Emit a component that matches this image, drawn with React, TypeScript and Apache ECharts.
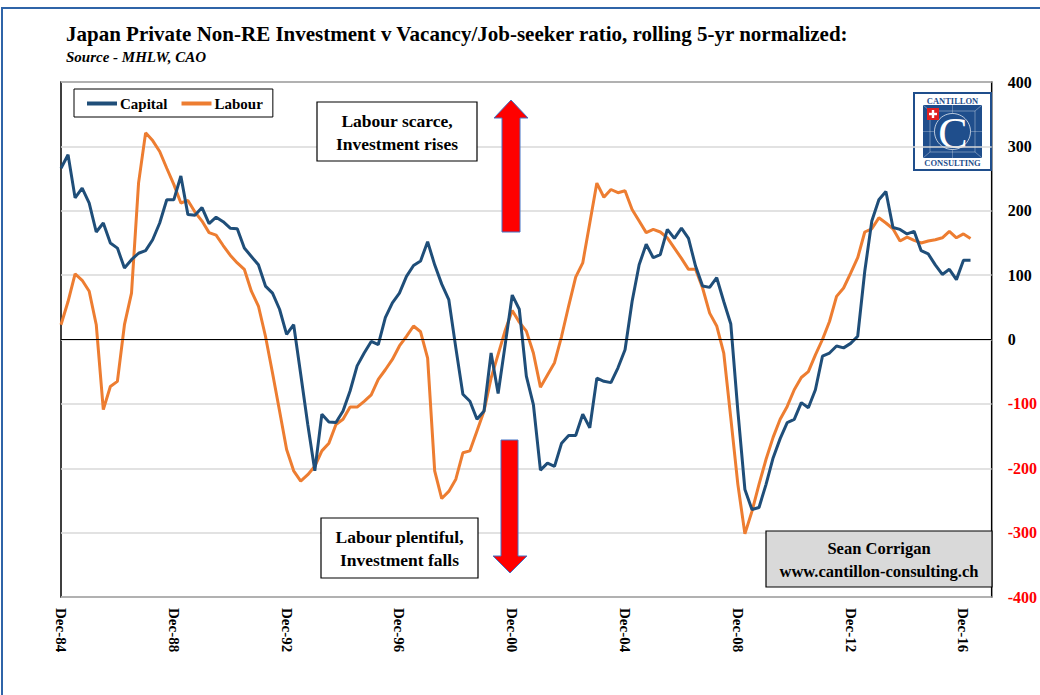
import React, { useEffect, useRef } from "react";
import * as echarts from "echarts";

const MONTHS = ["Mar", "Jun", "Sep", "Dec"];
// quarterly categories Dec-84 .. Dec-17
const categories: string[] = ["Dec-84"];
for (let y = 85; y <= 117; y++) {
  for (const m of MONTHS) categories.push(`${m}-${String(y % 100).padStart(2, "0")}`);
}

const capital = [
  266, 287, 220, 235, 212, 167, 181, 150, 142, 111, 124, 134, 138, 155, 181, 217, 217, 254, 194, 193,
  205, 180, 190, 183, 173, 172, 142, 129, 116, 83, 72, 47, 8, 23, -54, -132, -204, -116, -128, -129,
  -111, -80, -41, -21, -3, -8, 34, 57, 72, 98, 115, 122, 152, 116, 86, 62, -13, -85, -96, -124,
  -111, -21, -84, -8, 69, 47, -57, -101, -203, -192, -197, -161, -149, -149, -116, -137, -60, -65, -67, -44,
  -16, 59, 116, 148, 127, 132, 171, 157, 173, 157, 114, 83, 81, 96, 59, 24, -111, -233, -264, -261,
  -225, -184, -154, -129, -124, -98, -106, -78, -26, -21, -10, -13, -6, 5, 106, 184, 217, 230, 174, 171,
  164, 168, 138, 133, 116, 101, 109, 93, 123, 123,
];

const labour = [
  23, 59, 102, 92, 75, 23, -109, -73, -65, 23, 72, 243, 321, 309, 292, 266, 241, 212, 216, 198,
  184, 166, 162, 146, 131, 119, 109, 75, 52, 5, -52, -111, -171, -204, -220, -210, -197, -173, -161, -132,
  -124, -105, -105, -96, -86, -62, -47, -31, -10, 5, 21, 12, -29, -204, -247, -236, -217, -176, -173, -142,
  -111, -60, -23, 14, 45, 27, 13, -21, -74, -55, -36, 5, 52, 97, 119, 181, 243, 221, 233, 228,
  231, 202, 184, 166, 171, 167, 158, 142, 126, 109, 109, 80, 41, 21, -21, -122, -225, -302, -267, -225,
  -186, -152, -124, -104, -78, -59, -50, -24, 0, 28, 67, 80, 103, 127, 167, 172, 189, 181, 172, 153,
  159, 154, 150, 153, 155, 158, 168, 158, 164, 157,
];

const FONT = "'Liberation Serif', 'Times New Roman', serif";
const BLUE = "#1f4e79";
const ORANGE = "#ed7d31";
const LOGO = "#1f4e8c";

export default function App() {
  const ref = useRef<HTMLDivElement>(null);
  useEffect(() => {
    if (!ref.current) return;
    const chart = echarts.init(ref.current, undefined, { renderer: "svg" });
    const boxText = (cx: number, cy: number, text: string, size: number) => ({
      type: "text",
      x: cx,
      y: cy,
      style: {
        text,
        fontFamily: FONT,
        fontWeight: "bold",
        fontSize: size,
        lineHeight: 23,
        fill: "#000",
        align: "center",
        verticalAlign: "middle",
      },
      z: 101,
    });
    chart.setOption({
      animation: false,
      backgroundColor: "#fff",
      title: {
        text: "Japan Private Non-RE Investment v Vacancy/Job-seeker ratio, rolling 5-yr normalized:",
        subtext: "Source - MHLW, CAO",
        left: 66,
        top: 23,
        padding: 0,
        itemGap: 5,
        textStyle: { fontFamily: FONT, fontWeight: "bold", fontSize: 21, color: "#000" },
        subtextStyle: { fontFamily: FONT, fontStyle: "italic", fontWeight: "bold", fontSize: 15, color: "#000" },
      },
      legend: {
        left: 74,
        top: 89,
        padding: [7, 10, 6, 13],
        borderColor: "#000",
        borderWidth: 1,
        itemWidth: 30,
        itemHeight: 4,
        itemGap: 14,
        icon: "rect",
        textStyle: { fontFamily: FONT, fontWeight: "bold", fontSize: 15, color: "#000", padding: [0, 0, 0, -2] },
        data: ["Capital", "Labour"],
      },
      grid: { left: 61, right: 41, top: 82, bottom: 98, show: true, borderColor: "#000", borderWidth: 1.5, backgroundColor: "transparent" },
      xAxis: {
        type: "category",
        data: categories,
        boundaryGap: false,
        axisLine: { show: false },
        axisTick: { show: false },
        splitLine: { show: false },
        axisLabel: {
          interval: 15,
          rotate: -90,
          margin: 11,
          fontFamily: FONT,
          fontWeight: "bold",
          fontSize: 15,
          color: "#000",
        },
      },
      yAxis: {
        type: "value",
        position: "right",
        min: -400,
        max: 400,
        interval: 100,
        axisLine: { show: false },
        axisTick: { show: false },
        splitLine: { lineStyle: { color: "#d9d9d9", width: 1.5 } },
        axisLabel: {
          margin: 16,
          fontFamily: FONT,
          fontWeight: "bold",
          fontSize: 16,
          color: (v: any) => (Number(v) < 0 ? "#ff0000" : "#000"),
        },
      },
      series: [
        {
          name: "Capital",
          type: "line",
          data: capital,
          symbol: "none",
          lineStyle: { color: BLUE, width: 3 },
          itemStyle: { color: BLUE },
          z: 3,
          markLine: {
            silent: true,
            symbol: "none",
            label: { show: false },
            lineStyle: { color: "#000", width: 1.2, type: "solid" },
            data: [{ yAxis: 0 }],
          },
        },
        {
          name: "Labour",
          type: "line",
          data: labour,
          symbol: "none",
          lineStyle: { color: ORANGE, width: 3 },
          itemStyle: { color: ORANGE },
          z: 2,
        },
      ],
      graphic: [
        // outer frame
        { type: "rect", shape: { x: 2, y: 8, width: 1200, height: 1000 }, style: { fill: "none", stroke: "#2f64a8", lineWidth: 2 }, silent: true, z: 100 },
        // annotation boxes
        { type: "rect", shape: { x: 317, y: 102, width: 160, height: 59 }, style: { fill: "#fff", stroke: "#000", lineWidth: 1.2 }, z: 100 },
        boxText(397, 132, "Labour scarce,\nInvestment rises", 17.5),
        { type: "rect", shape: { x: 321, y: 518, width: 157, height: 60 }, style: { fill: "#fff", stroke: "#000", lineWidth: 1.2 }, z: 100 },
        boxText(399.5, 548.5, "Labour plentiful,\nInvestment falls", 17.5),
        { type: "rect", shape: { x: 766, y: 531, width: 226, height: 56 }, style: { fill: "#d9d9d9", stroke: "#000", lineWidth: 1.2 }, z: 100 },
        boxText(879, 560, "Sean Corrigan\nwww.cantillon-consulting.ch", 16.5),
        // arrows
        {
          type: "polygon",
          shape: { points: [[511, 100], [528, 118], [520, 118], [520, 232], [502, 232], [502, 118], [494, 118]] },
          style: { fill: "#ff0000", stroke: "#4472c4", lineWidth: 1 },
          z: 100,
        },
        {
          type: "polygon",
          shape: { points: [[501, 440], [518, 440], [518, 556], [527, 556], [510, 573], [493, 556], [501, 556]] },
          style: { fill: "#ff0000", stroke: "#4472c4", lineWidth: 1 },
          z: 100,
        },
        // logo
        {
          type: "group",
          z: 100,
          children: [
            { type: "rect", shape: { x: 914, y: 93, width: 77, height: 77 }, style: { fill: "#fff", stroke: LOGO, lineWidth: 2 } },
            { type: "text", x: 952.5, y: 101, style: { text: "CANTILLON", fontFamily: FONT, fontWeight: "bold", fontSize: 8.5, fill: LOGO, align: "center", verticalAlign: "middle" } },
            { type: "text", x: 952.5, y: 163, style: { text: "CONSULTING", fontFamily: FONT, fontWeight: "bold", fontSize: 8.5, fill: LOGO, align: "center", verticalAlign: "middle" } },
            { type: "rect", shape: { x: 923, y: 105, width: 59, height: 53 }, style: { fill: LOGO } },
            { type: "rect", shape: { x: 930, y: 111, width: 45, height: 41 }, style: { fill: "none", stroke: "rgba(255,255,255,0.45)", lineWidth: 0.8 } },
            { type: "line", shape: { x1: 923, y1: 105, x2: 930, y2: 111 }, style: { stroke: "rgba(255,255,255,0.45)", lineWidth: 0.8 } },
            { type: "line", shape: { x1: 982, y1: 105, x2: 975, y2: 111 }, style: { stroke: "rgba(255,255,255,0.45)", lineWidth: 0.8 } },
            { type: "line", shape: { x1: 923, y1: 158, x2: 930, y2: 152 }, style: { stroke: "rgba(255,255,255,0.45)", lineWidth: 0.8 } },
            { type: "line", shape: { x1: 982, y1: 158, x2: 975, y2: 152 }, style: { stroke: "rgba(255,255,255,0.45)", lineWidth: 0.8 } },
            { type: "line", shape: { x1: 952.5, y1: 105, x2: 952.5, y2: 158 }, style: { stroke: "rgba(255,255,255,0.35)", lineWidth: 0.8 } },
            { type: "line", shape: { x1: 923, y1: 131.5, x2: 982, y2: 131.5 }, style: { stroke: "rgba(255,255,255,0.35)", lineWidth: 0.8 } },
            { type: "circle", shape: { cx: 952.5, cy: 131.5, r: 18 }, style: { fill: LOGO, stroke: "rgba(255,255,255,0.7)", lineWidth: 1 } },
            { type: "text", x: 953, y: 133, style: { text: "C", fontFamily: FONT, fontSize: 44, fill: "#fff", align: "center", verticalAlign: "middle" } },
            { type: "rect", shape: { x: 927, y: 108, width: 12, height: 12 }, style: { fill: "#e02020" } },
            { type: "rect", shape: { x: 931.8, y: 110, width: 2.4, height: 8 }, style: { fill: "#fff" } },
            { type: "rect", shape: { x: 929, y: 112.8, width: 8, height: 2.4 }, style: { fill: "#fff" } },
          ],
        },
      ],
    });
    return () => chart.dispose();
  }, []);
  return <div ref={ref} style={{ position: "fixed", left: 0, top: 0, width: 1040, height: 695 }} />;
}
